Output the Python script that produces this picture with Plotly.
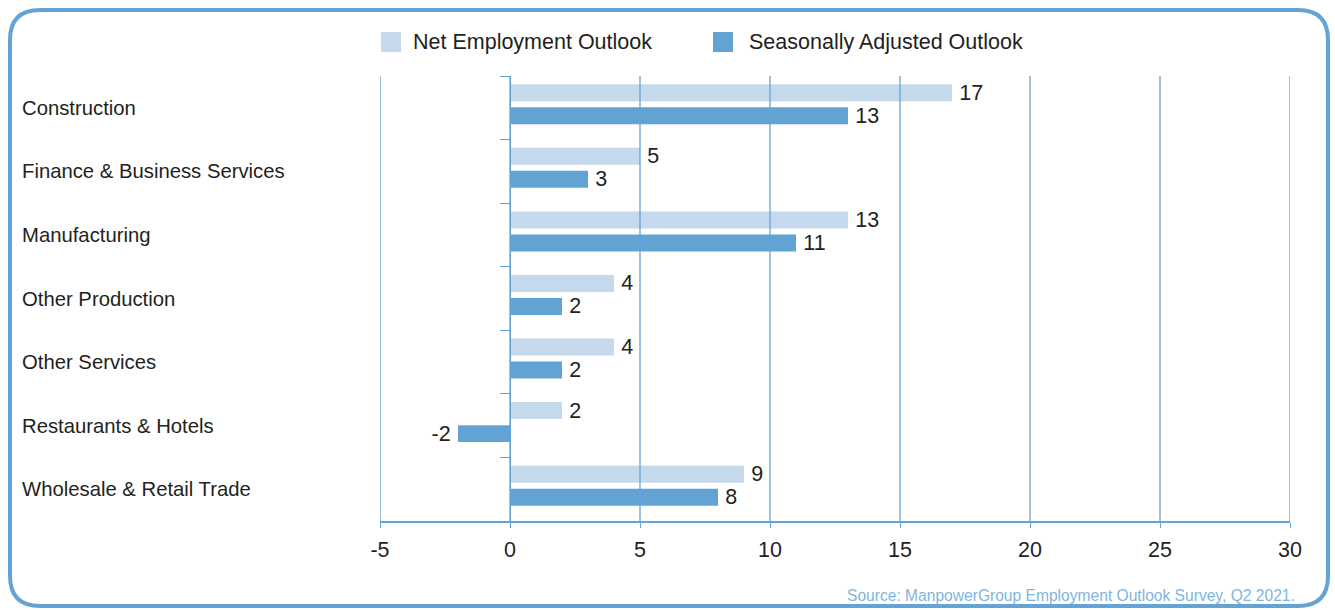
import re
import plotly.graph_objects as go

categories = ["Construction", "Finance & Business Services", "Manufacturing",
              "Other Production", "Other Services", "Restaurants & Hotels",
              "Wholesale & Retail Trade"]
net_outlook = [17, 5, 13, 4, 4, 2, 9]
seasonal_outlook = [13, 3, 11, 2, 2, -2, 8]
series_names = ["Net Employment Outlook", "Seasonally Adjusted Outlook"]
x_ticks = [-5, 0, 5, 10, 15, 20, 25, 30]
source_text = "Source: ManpowerGroup Employment Outlook Survey, Q2 2021."

W, H = 1335, 610
ML, MR, MT, MB = 380, 45, 76, 89
PW, PH = W - ML - MR, H - MT - MB

def px_x(x):
    return (x - ML) / PW

def px_y(y):
    return (H - MB - y) / PH

LIGHT = "#c6d9ec"
DARK = "#62a3d4"
LINE = "#64a3d6"
TXT = "#231f20"
FONT = "Liberation Sans"
BAR_W = 0.267
OFFSETS = [-0.37, -0.008]

def label(v):
    return f"\u2009{v}" if v >= 0 else f"{v}\u2009"

fig = go.Figure()
for name, vals, col, off in [(series_names[0], net_outlook, LIGHT, OFFSETS[0]),
                             (series_names[1], seasonal_outlook, DARK, OFFSETS[1])]:
    fig.add_trace(go.Bar(
        y=categories, x=vals, orientation="h", name=name,
        width=BAR_W, offset=off,
        marker=dict(color=col, line=dict(width=0)),
        text=[label(v) for v in vals], textposition="outside",
        constraintext="none",
        textfont=dict(size=21.5, color=TXT, family=FONT),
        cliponaxis=False, showlegend=False,
    ))

annotations = []
for c in categories:
    annotations.append(dict(x=px_x(20), xref="paper", y=c, yref="y",
                            text=c, showarrow=False, xanchor="left",
                            font=dict(size=20.3, color=TXT, family=FONT)))

shapes = []
# vertical grid lines drawn above the bars
for xv in x_ticks:
    shapes.append(dict(type="line", xref="x", yref="paper", x0=xv, x1=xv,
                       y0=0, y1=1, layer="above",
                       line=dict(color=LINE, width=1.3)))

# legend (custom)
leg = [(381, 411, LIGHT, series_names[0]), (713, 747, DARK, series_names[1])]
for sx, tx, col, name in leg:
    shapes.append(dict(type="rect", xref="paper", yref="paper",
                       x0=px_x(sx), x1=px_x(sx + 20), y0=px_y(52), y1=px_y(32),
                       fillcolor=col, line=dict(width=0)))
    annotations.append(dict(x=px_x(tx), xref="paper", y=px_y(42), yref="paper",
                            text=name, showarrow=False, xanchor="left",
                            yanchor="middle",
                            font=dict(size=21.5, color=TXT, family=FONT)))

annotations.append(dict(x=px_x(1297), xref="paper", y=px_y(595), yref="paper",
                        text=source_text, showarrow=False, xanchor="right",
                        yanchor="middle",
                        font=dict(size=15.6, color="#7fb5e1", family=FONT)))

# rounded frame
x0, x1, y0, y1, r = 10, 1328, 10, 606, 30
path = (f"M {x0+r},{y0} L {x1-r},{y0} Q {x1},{y0} {x1},{y0+r} "
        f"L {x1},{y1-r} Q {x1},{y1} {x1-r},{y1} L {x0+r},{y1} "
        f"Q {x0},{y1} {x0},{y1-r} L {x0},{y0+r} Q {x0},{y0} {x0+r},{y0} Z")

def conv(m):
    a, b = float(m.group(1)), float(m.group(2))
    return f"{px_x(a):.6f},{px_y(b):.6f}"

path_paper = re.sub(r"([\d.]+),([\d.]+)", conv, path)
shapes.append(dict(type="path", xref="paper", yref="paper", path=path_paper,
                   line=dict(color=LINE, width=4), layer="below"))

fig.update_layout(
    width=W, height=H,
    margin=dict(l=ML, r=MR, t=MT, b=MB),
    paper_bgcolor="white", plot_bgcolor="white",
    barmode="group",
    showlegend=False,
    annotations=annotations, shapes=shapes,
    font=dict(family=FONT, color=TXT),
    xaxis=dict(range=[x_ticks[0], x_ticks[-1]], tickvals=x_ticks,
               ticktext=[str(t) for t in x_ticks],
               showgrid=False, zeroline=False,
               showline=True, linecolor=LINE, linewidth=1.5,
               ticks="outside", ticklen=5, tickcolor=LINE,
               ticklabelstandoff=3,
               tickfont=dict(size=21.5, color=TXT, family=FONT)),
    yaxis=dict(categoryorder="array", categoryarray=categories,
               autorange="reversed", anchor="free", position=1/7,
               showline=True, linecolor=LINE, linewidth=1.3,
               ticks="outside", tickson="boundaries", ticklen=10,
               tickcolor=LINE, tickwidth=1.3,
               showticklabels=False, showgrid=False),
)

fig.write_html("out.html", config={"displayModeBar": False},
               post_script="document.body.style.margin='0px';document.body.style.overflow='hidden';")
